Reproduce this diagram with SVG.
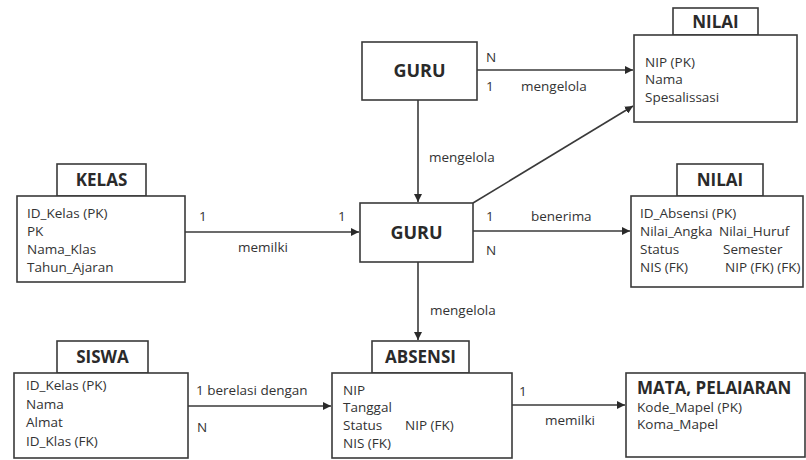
<svg xmlns="http://www.w3.org/2000/svg" width="806" height="460" viewBox="0 0 806 460">
<style>
  .box{fill:#fff;stroke:#3a3a3a;stroke-width:1.6}
  .ln{fill:none;stroke:#3a3a3a;stroke-width:1.6}
  .t{font-family:"Open Sans","Liberation Sans",sans-serif;font-size:13.5px;fill:#333}
  .b{font-family:"Open Sans","Liberation Sans",sans-serif;font-size:17px;font-weight:bold;fill:#2a2a2a}
  .g{font-family:"Open Sans","Liberation Sans",sans-serif;font-size:18px;font-weight:bold;fill:#2a2a2a}
</style>
<defs>
  <marker id="ah" viewBox="0 0 10 10" refX="10" refY="5" markerWidth="8" markerHeight="8" markerUnits="userSpaceOnUse" orient="auto">
    <path d="M0,0 L10,5 L0,10 z" fill="#2a2a2a"/>
  </marker>
</defs>
<rect width="806" height="460" fill="#fff"/>

<g id="connectors">
  <line class="ln" x1="477" y1="70" x2="633" y2="70" marker-end="url(#ah)"/>
  <line class="ln" x1="418" y1="100" x2="418" y2="202" marker-end="url(#ah)"/>
  <line class="ln" x1="473" y1="203" x2="633" y2="106" marker-end="url(#ah)"/>
  <line class="ln" x1="185" y1="232" x2="359" y2="232" marker-end="url(#ah)"/>
  <line class="ln" x1="473" y1="231" x2="630" y2="231" marker-end="url(#ah)"/>
  <line class="ln" x1="418" y1="262" x2="418" y2="340" marker-end="url(#ah)"/>
  <line class="ln" x1="188" y1="406" x2="331" y2="406" marker-end="url(#ah)"/>
  <line class="ln" x1="512" y1="405" x2="625" y2="405" marker-end="url(#ah)"/>
  <text class="t" x="486" y="62">N</text>
  <text class="t" x="486" y="91">1</text>
  <text class="t" x="521" y="91">mengelola</text>
  <text class="t" x="429" y="162">mengelola</text>
  <text class="t" x="199" y="221">1</text>
  <text class="t" x="338" y="221">1</text>
  <text class="t" x="238" y="252">memilki</text>
  <text class="t" x="486" y="221">1</text>
  <text class="t" x="531" y="221">benerima</text>
  <text class="t" x="486" y="255">N</text>
  <text class="t" x="430" y="315">mengelola</text>
  <text class="t" x="196" y="395">1 berelasi dengan</text>
  <text class="t" x="197" y="432">N</text>
  <text class="t" x="519" y="396">1</text>
  <text class="t" x="545" y="425">memilki</text>
</g>

<g id="guru-top">
  <rect class="box" x="362" y="42" width="115" height="58"/>
  <text class="g" x="419.5" y="77" text-anchor="middle">GURU</text>
</g>

<g id="nilai-top">
  <rect class="box" x="673" y="8" width="85" height="27"/>
  <text class="b" x="715.5" y="28" text-anchor="middle">NILAI</text>
  <rect class="box" x="634" y="35" width="163" height="87"/>
  <text class="t" x="645" y="67">NIP (PK)</text>
  <text class="t" x="645" y="84">Nama</text>
  <text class="t" x="645" y="102">Spesalissasi</text>
</g>

<g id="kelas">
  <rect class="box" x="57" y="164" width="89" height="32"/>
  <text class="b" x="101.5" y="186" text-anchor="middle">KELAS</text>
  <rect class="box" x="17" y="196" width="168" height="86"/>
  <text class="t" x="27" y="218">ID_Kelas (PK)</text>
  <text class="t" x="27" y="236">PK</text>
  <text class="t" x="27" y="254">Nama_Klas</text>
  <text class="t" x="27" y="272">Tahun_Ajaran</text>
</g>

<g id="guru-mid">
  <rect class="box" x="360" y="203" width="113" height="59"/>
  <text class="g" x="416.5" y="239" text-anchor="middle">GURU</text>
</g>

<g id="nilai-mid">
  <rect class="box" x="677" y="164" width="86" height="32"/>
  <text class="b" x="720" y="186" text-anchor="middle">NILAI</text>
  <rect class="box" x="631" y="196" width="172" height="91"/>
  <text class="t" x="640" y="218">ID_Absensi (PK)</text>
  <text class="t" x="640" y="236">Nilai_Angka</text>
  <text class="t" x="719" y="236">Nilai_Huruf</text>
  <text class="t" x="640" y="254">Status</text>
  <text class="t" x="723" y="254">Semester</text>
  <text class="t" x="640" y="272">NIS (FK)</text>
  <text class="t" x="725" y="272">NIP (FK) (FK)</text>
</g>

<g id="siswa">
  <rect class="box" x="57" y="341" width="91" height="32"/>
  <text class="b" x="102.5" y="363" text-anchor="middle">SISWA</text>
  <rect class="box" x="14" y="373" width="174" height="85"/>
  <text class="t" x="26" y="390">ID_Kelas (PK)</text>
  <text class="t" x="26" y="409">Nama</text>
  <text class="t" x="26" y="427">Almat</text>
  <text class="t" x="26" y="446">ID_Klas (FK)</text>
</g>

<g id="absensi">
  <rect class="box" x="372" y="341" width="97" height="32"/>
  <text class="b" x="420.5" y="363" text-anchor="middle">ABSENSI</text>
  <rect class="box" x="332" y="373" width="180" height="85"/>
  <text class="t" x="343" y="395">NIP</text>
  <text class="t" x="343" y="412">Tanggal</text>
  <text class="t" x="343" y="430">Status</text>
  <text class="t" x="405" y="430">NIP (FK)</text>
  <text class="t" x="343" y="448">NIS (FK)</text>
</g>

<g id="mata-pelajaran">
  <rect class="box" x="626" y="373" width="179" height="84"/>
  <text class="b" x="637" y="394">MATA, PELAIARAN</text>
  <text class="t" x="637" y="412">Kode_Mapel (PK)</text>
  <text class="t" x="637" y="429">Koma_Mapel</text>
</g>
</svg>
